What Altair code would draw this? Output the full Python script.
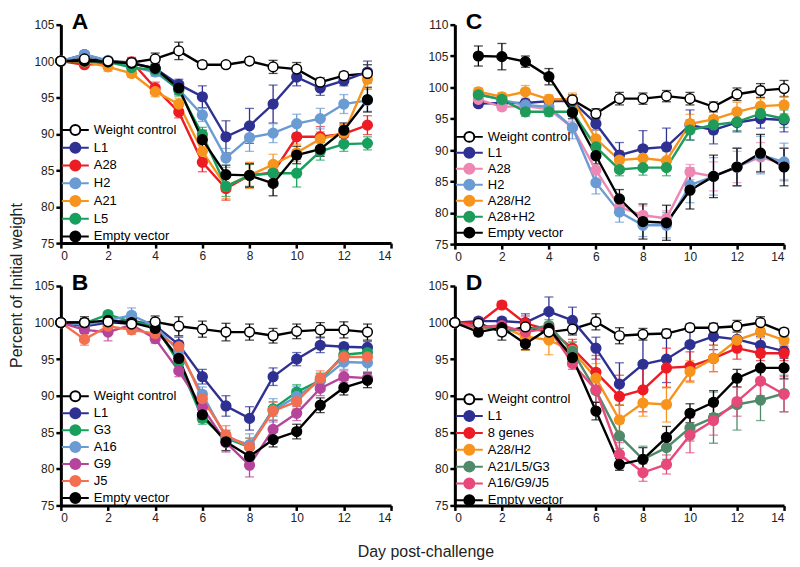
import altair as alt
import pandas as pd

FONT = "Liberation Sans"

# ---------------- Panel A ----------------
A_days = list(range(0, 14))
A_names = ["Weight control", "L1", "A28", "H2", "A21", "L5", "Empty vector"]
A_colors = ["#000000", "#2e3192", "#ed1c24", "#6a9bd3", "#f7941d", "#17a05d", "#000000"]
A_fills = ["#ffffff", "#2e3192", "#ed1c24", "#6a9bd3", "#f7941d", "#17a05d", "#000000"]
A_wc = [100, 100.3, 100, 99.8, 100.3, 101.4, 99.5, 99.5, 100, 99.2, 98.9, 97.1, 98, 98.3]
A_wc_err = [0, 0.3, 0.4, 0.5, 0.8, 1.2, 0.5, 0.4, 0.4, 0.9, 0.9, 0.6, 0.5, 1.2]
A_l1 = [100, 100.9, 100, 99.7, 99, 96.8, 95.1, 89.6, 91.1, 94.1, 97.8, 96.3, 97.3, 98.5]
A_l1_err = [0, 0.4, 0.4, 0.4, 0.8, 0.7, 1.5, 2.2, 2.4, 2.6, 1.2, 1.0, 0.7, 1.5]
A_a28 = [100, 99.5, 99.7, 99.9, 96.3, 93, 86.1, 82.5, 84.3, 84.7, 89.6, 89.6, 90, 91.2]
A_a28_err = [0, 0.3, 0.4, 0.6, 0.8, 0.8, 1.3, 1.6, 1.7, 1.2, 1.8, 1.4, 1.2, 1.3]
A_h2 = [100, 100.9, 100.1, 99.2, 98.5, 96.1, 92.6, 86.7, 89.5, 90.1, 91.4, 92.1, 94.1, 94.6]
A_h2_err = [0, 0.4, 0.4, 0.4, 0.6, 0.7, 0.9, 1.3, 1.9, 1.3, 1.3, 1.4, 1.3, 1.5]
A_a21 = [100, 99.9, 99.2, 98.3, 95.8, 94.1, 87.6, 82.8, 84.3, 85.8, 87.4, 89.3, 90.1, 97.5]
A_a21_err = [0, 0.3, 0.6, 0.5, 0.7, 0.8, 1.6, 1.7, 1.8, 1.4, 1.2, 1.0, 1.2, 1.3]
A_l5 = [100, 100, 99.9, 99.1, 98.8, 96, 89.9, 82.8, 84.3, 84.6, 84.6, 87.6, 88.6, 88.7]
A_l5_err = [0, 0.3, 0.4, 0.5, 0.7, 0.8, 1.0, 1.4, 1.5, 1.2, 1.9, 1.2, 1.0, 0.9]
A_ev = [100, 100, 99.9, 99.7, 99, 96.3, 89.2, 84.4, 84.3, 83.2, 87.1, 87.9, 90.5, 94.7]
A_ev_err = [0, 0.3, 0.4, 0.4, 0.6, 0.8, 1.3, 1.3, 1.6, 1.7, 1.2, 1.0, 1.0, 1.7]

# ---------------- Panel B ----------------
B_days = list(range(0, 14))
B_names = ["Weight control", "L1", "G3", "A16", "G9", "J5", "Empty vector"]
B_colors = ["#000000", "#2e3192", "#17a05d", "#6a9bd3", "#b5449a", "#f26f50", "#000000"]
B_fills = ["#ffffff", "#2e3192", "#17a05d", "#6a9bd3", "#b5449a", "#f26f50", "#000000"]
B_wc = [100, 100, 100.1, 99.8, 100.1, 99.5, 99.1, 98.7, 98.7, 98.2, 98.8, 99, 99, 98.7]
B_wc_err = [0, 0.8, 0.8, 0.8, 0.8, 1.3, 1.1, 1.2, 1.1, 1.0, 1.0, 1.0, 1.1, 1.1]
B_l1 = [100, 99.5, 100, 100.3, 99.6, 97, 92.6, 88.6, 86.9, 92.6, 95, 96.9, 96.7, 96.6]
B_l1_err = [0, 0.6, 0.5, 0.5, 0.6, 1.0, 1.0, 1.4, 1.6, 1.2, 0.9, 1.0, 0.5, 0.8]
B_g3 = [100, 99.9, 101.1, 100.1, 99.6, 94.5, 86.9, 84.2, 83, 88.2, 90.5, 92.1, 95.6, 95.9]
B_g3_err = [0, 0.4, 0.4, 0.5, 0.6, 0.8, 0.8, 1.0, 1.2, 1.0, 1.0, 1.0, 1.0, 1.0]
B_a16 = [100, 99.7, 100.3, 101, 99.5, 96.1, 90.2, 84.3, 83.3, 88, 89.9, 92, 94.6, 94.5]
B_a16_err = [0, 0.5, 0.6, 1.0, 0.6, 0.8, 1.0, 1.0, 1.5, 1.6, 1.4, 1.0, 1.0, 1.2]
B_g9 = [100, 99, 98.7, 99.7, 97.8, 93.4, 88.4, 83.6, 80.5, 85.4, 87.6, 91, 92.6, 92.4]
B_g9_err = [0, 0.5, 1.2, 0.6, 0.6, 0.8, 1.0, 1.3, 1.6, 1.2, 1.0, 1.0, 0.8, 0.7]
B_j5 = [100, 97.7, 99.5, 99, 98.5, 96.7, 89.6, 84.6, 83, 87.9, 89.2, 92.4, 95.3, 95.3]
B_j5_err = [0, 0.8, 0.6, 0.6, 0.6, 0.8, 1.0, 1.3, 1.2, 1.2, 1.0, 1.0, 0.8, 0.8]
B_ev = [100, 100, 100.3, 100, 99.2, 95.1, 87.4, 83.7, 81.7, 84, 85.1, 88.7, 91.1, 92.1]
B_ev_err = [0, 0.5, 0.5, 0.6, 0.6, 0.8, 1.0, 1.2, 1.0, 1.0, 1.0, 1.0, 1.0, 1.0]

# ---------------- Panel C ----------------
C_days = list(range(1, 15))
C_wc_days = list(range(5, 15))
C_names = ["Weight control", "L1", "A28", "H2", "A28/H2", "A28+H2", "Empty vector"]
C_colors = ["#000000", "#2e3192", "#ee87b4", "#6a9bd3", "#f7941d", "#1f9c5a", "#000000"]
C_fills = ["#ffffff", "#2e3192", "#ee87b4", "#6a9bd3", "#f7941d", "#1f9c5a", "#000000"]
C_wc = [98, 95.8, 98.2, 98.2, 98.6, 98.2, 96.9, 98.9, 99.5, 99.8]
C_wc_err = [0.8, 0.8, 1.0, 0.9, 0.9, 1.0, 0.8, 1.0, 1.1, 1.3]
C_l1 = [97.4, 97.5, 97.5, 97.8, 97.8, 94.2, 89.2, 90.2, 90.5, 94, 93.2, 94.4, 95, 94.8]
C_l1_err = [0.5, 0.6, 0.5, 0.6, 0.6, 1.0, 2.0, 2.9, 3.0, 2.4, 2.2, 1.5, 1.5, 1.9]
C_a28 = [98.1, 96.9, 97, 96.5, 93.6, 86.8, 80.9, 79.6, 79.1, 86.5, 85.8, 87.3, 88.9, 87.8]
C_a28_err = [0.5, 0.6, 0.6, 0.6, 1.0, 1.5, 1.3, 1.5, 1.2, 1.2, 2.3, 2.5, 2.3, 2.5]
C_h2 = [99, 98, 97.2, 96.9, 93.6, 84.8, 80.1, 78, 78, 84.4, 85.8, 87.3, 89.2, 88.1]
C_h2_err = [0.5, 0.6, 0.6, 0.6, 1.8, 1.8, 1.6, 1.8, 2.0, 2.8, 3.0, 3.0, 3.0, 3.0]
C_a28h2 = [99.3, 98.5, 99.3, 98.1, 98.1, 91.8, 88.4, 88.7, 88.3, 94.2, 94.9, 96.1, 97, 97.2]
C_a28h2_err = [0.6, 0.6, 1.0, 0.7, 1.0, 1.5, 1.5, 1.5, 1.5, 1.5, 1.5, 1.5, 1.2, 1.4]
C_a28ph2 = [98.8, 98.1, 96.1, 96.1, 96.1, 90.5, 86.9, 87.2, 87.2, 93.2, 94, 94.5, 95.8, 95]
C_a28ph2_err = [0.6, 0.8, 0.7, 0.7, 0.7, 1.0, 1.0, 1.2, 1.3, 1.6, 1.4, 1.4, 1.2, 1.4]
C_ev = [105, 104.9, 104.1, 101.7, 96, 89.1, 82.2, 78.6, 78.4, 83.6, 85.8, 87.3, 89.5, 87.3]
C_ev_err = [1.6, 2.1, 0.9, 1.3, 1.0, 1.3, 1.5, 2.8, 2.8, 3.0, 3.4, 3.0, 3.0, 3.0]

# ---------------- Panel D ----------------
D_days = list(range(0, 15))
D_names = ["Weight control", "L1", "8 genes", "A28/H2", "A21/L5/G3", "A16/G9/J5", "Empty vector"]
D_colors = ["#000000", "#2e3192", "#ed1c24", "#f7941d", "#4f8a6a", "#e7497a", "#000000"]
D_fills = ["#ffffff", "#2e3192", "#ed1c24", "#f7941d", "#4f8a6a", "#e7497a", "#000000"]
D_wc = [100, 99.9, 98.7, 99.4, 98.7, 99.1, 100.1, 98.2, 98.4, 98.5, 99.3, 99.3, 99.5, 100, 98.7]
D_wc_err = [0, 0.5, 1.1, 1.0, 0.8, 0.8, 1.1, 1.1, 0.8, 0.6, 0.5, 0.6, 0.8, 0.8, 0.5]
D_l1 = [100, 100.2, 100.2, 100, 101.5, 100.3, 96.5, 91.6, 94.3, 95, 97, 98.1, 97.7, 96.9, 96.1]
D_l1_err = [0, 0.5, 0.5, 1.2, 2.0, 1.8, 1.5, 2.9, 3.9, 3.2, 2.6, 1.8, 1.5, 1.2, 1.0]
D_8g = [100, 99.9, 102.4, 99.9, 99, 96.5, 93.2, 89.9, 90.8, 93.8, 94, 95.1, 96.5, 95.8, 95.8]
D_8g_err = [0, 0.5, 0.5, 1.0, 1.0, 1.2, 2.3, 2.9, 3.0, 2.7, 2.0, 1.8, 1.5, 1.0, 1.0]
D_a28h2 = [100, 99.2, 99.4, 98.1, 97.6, 96.2, 92.4, 86.7, 89, 88.8, 93.3, 95.1, 97.6, 98.7, 97.6]
D_a28h2_err = [0, 0.6, 0.8, 1.9, 2.0, 1.2, 2.0, 2.1, 1.8, 2.4, 1.5, 1.8, 1.4, 0.8, 0.9]
D_a21 = [100, 99.5, 99, 99, 99.6, 96.1, 90.7, 84.5, 81.3, 82.9, 85.6, 87, 88.8, 89.4, 90.3]
D_a21_err = [0, 0.6, 0.8, 1.0, 0.8, 1.2, 1.6, 1.7, 1.8, 1.6, 1.8, 3.5, 3.5, 2.8, 2.5]
D_a16 = [100, 99.4, 99.6, 98.7, 99.2, 94.4, 90.8, 82, 79.5, 80.6, 84.6, 86.6, 89.2, 92, 90.2]
D_a16_err = [0, 0.6, 0.8, 1.0, 0.8, 0.8, 1.7, 1.6, 1.2, 1.3, 2.4, 2.0, 2.0, 2.0, 2.4]
D_ev = [100, 98.7, 99.3, 97.1, 99.2, 95.2, 87.9, 80.6, 81.3, 84.3, 87.6, 89.1, 92.4, 93.8, 93.8]
D_ev_err = [0, 0.5, 0.6, 0.8, 0.6, 0.8, 1.2, 0.8, 1.6, 1.5, 1.3, 1.6, 1.2, 1.5, 1.5]

LEGEND_PATH = "M-2.7,0L-1,0M1,0L2.7,0M-1,0A1,1 0 1,0 1,0A1,1 0 1,0 -1,0"


def make_frame(names, day_lists, value_lists, err_lists):
    rows = []
    n = len(names)
    for i, name in enumerate(names):
        # draw order: weight control on top
        z = n if i == 0 else i
        for d, v, e in zip(day_lists[i], value_lists[i], err_lists[i]):
            rows.append({"series": name, "day": d, "value": v,
                         "lo": v - e, "hi": v + e, "z": z})
    return pd.DataFrame(rows)


def panel(letter, df, names, colors, fills, ymax, legend_y, row_pad, w, h):
    xaxis = alt.Axis(values=list(range(0, 15, 2)), title=None)
    yaxis = alt.Axis(values=list(range(75, ymax + 1, 5)), title=None)
    xs = alt.Scale(domain=[0, 14], nice=False, padding=0)
    ys = alt.Scale(domain=[75, ymax], nice=False, zero=False, padding=0)
    x = alt.X("day:Q", scale=xs, axis=xaxis)
    y = alt.Y("value:Q", scale=ys, axis=yaxis)
    stroke_scale = alt.Scale(domain=names, range=colors)
    fill_scale = alt.Scale(domain=names, range=fills)
    legend = alt.Legend(
        title=None, orient="none", legendX=8, legendY=legend_y,
        symbolType=LEGEND_PATH, symbolSize=100, symbolStrokeWidth=2,
        labelFontSize=13, labelFont=FONT, labelColor="#000000", labelOffset=12,
        rowPadding=row_pad, padding=0, symbolOpacity=1,
    )
    base = alt.Chart(df)
    err = base.mark_errorbar(ticks={"size": 9}, thickness=1.3).encode(
        x=x, y=alt.Y("lo:Q", scale=ys, axis=yaxis),
        y2="hi:Q",
        color=alt.Color("series:N", scale=stroke_scale, legend=None),
    )
    line = base.mark_line(strokeWidth=2.4).encode(
        x=x, y=y,
        stroke=alt.Stroke("series:N", scale=stroke_scale, legend=legend),
    )
    pts = base.mark_point(filled=True, size=95, strokeWidth=1.5, opacity=1).encode(
        x=x, y=y,
        stroke=alt.Stroke("series:N", scale=stroke_scale, legend=legend),
        fill=alt.Fill("series:N", scale=fill_scale, legend=legend),
        order=alt.Order("z:Q"),
    )
    lab = alt.Chart(pd.DataFrame({"t": [letter]})).mark_text(
        fontSize=23, fontWeight="bold", font=FONT, align="left", baseline="alphabetic",
        color="#000000",
    ).encode(text="t:N", x=alt.value(11), y=alt.value(4))
    ch = alt.layer(err, line, pts, lab).properties(width=w, height=h).resolve_scale(
        color="independent")
    return ch


A_df = make_frame(A_names, [A_days] * 7,
                  [A_wc, A_l1, A_a28, A_h2, A_a21, A_l5, A_ev],
                  [A_wc_err, A_l1_err, A_a28_err, A_h2_err, A_a21_err, A_l5_err, A_ev_err])
B_df = make_frame(B_names, [B_days] * 7,
                  [B_wc, B_l1, B_g3, B_a16, B_g9, B_j5, B_ev],
                  [B_wc_err, B_l1_err, B_g3_err, B_a16_err, B_g9_err, B_j5_err, B_ev_err])
C_df = make_frame(C_names, [C_wc_days] + [C_days] * 6,
                  [C_wc, C_l1, C_a28, C_h2, C_a28h2, C_a28ph2, C_ev],
                  [C_wc_err, C_l1_err, C_a28_err, C_h2_err, C_a28h2_err, C_a28ph2_err, C_ev_err])
D_df = make_frame(D_names, [D_days] * 7,
                  [D_wc, D_l1, D_8g, D_a28h2, D_a21, D_a16, D_ev],
                  [D_wc_err, D_l1_err, D_8g_err, D_a28h2_err, D_a21_err, D_a16_err, D_ev_err])

pA = panel("A", A_df, A_names, A_colors, A_fills, 105, 99, -1.2, 331, 219)
pC = panel("C", C_df, C_names, C_colors, C_fills, 110, 106, -3.1, 330, 220)
pB = panel("B", B_df, B_names, B_colors, B_fills, 105, 104, -2.0, 331, 220)
pD = panel("D", D_df, D_names, D_colors, D_fills, 105, 107, -2.1, 330, 220)

RES = dict(x="independent", y="independent", stroke="independent",
           fill="independent", color="independent")

row1 = alt.hconcat(pA, pC, spacing=34).resolve_scale(**RES).resolve_legend(
    stroke="independent", fill="independent")
row2 = alt.hconcat(pB, pD, spacing=34).resolve_scale(**RES).resolve_legend(
    stroke="independent", fill="independent").properties(
    title=alt.TitleParams("Day post-challenge", orient="bottom", anchor="middle",
                          fontSize=16, fontWeight="normal", font=FONT, color="#222222",
                          offset=21, dx=13)
)

chart = alt.vconcat(row1, row2, spacing=10).resolve_scale(**RES).resolve_legend(
    stroke="independent", fill="independent").properties(
    padding={"left": 0, "top": 2, "right": 0, "bottom": 0},
    title=alt.TitleParams("Percent of Initial weight", orient="left", anchor="middle",
                          fontSize=16, fontWeight="normal", font=FONT, color="#222222", offset=9)
).configure_view(stroke=None).configure_axis(
    grid=False, domainColor="#000000", domainWidth=3, tickColor="#000000",
    tickWidth=2.5, tickSize=5, labelFontSize=12, labelFont=FONT, labelColor="#222222",
    labelPadding=2, labelOverlap=False,
)

chart.save("out.html", embed_options={"renderer": "svg", "actions": False})
